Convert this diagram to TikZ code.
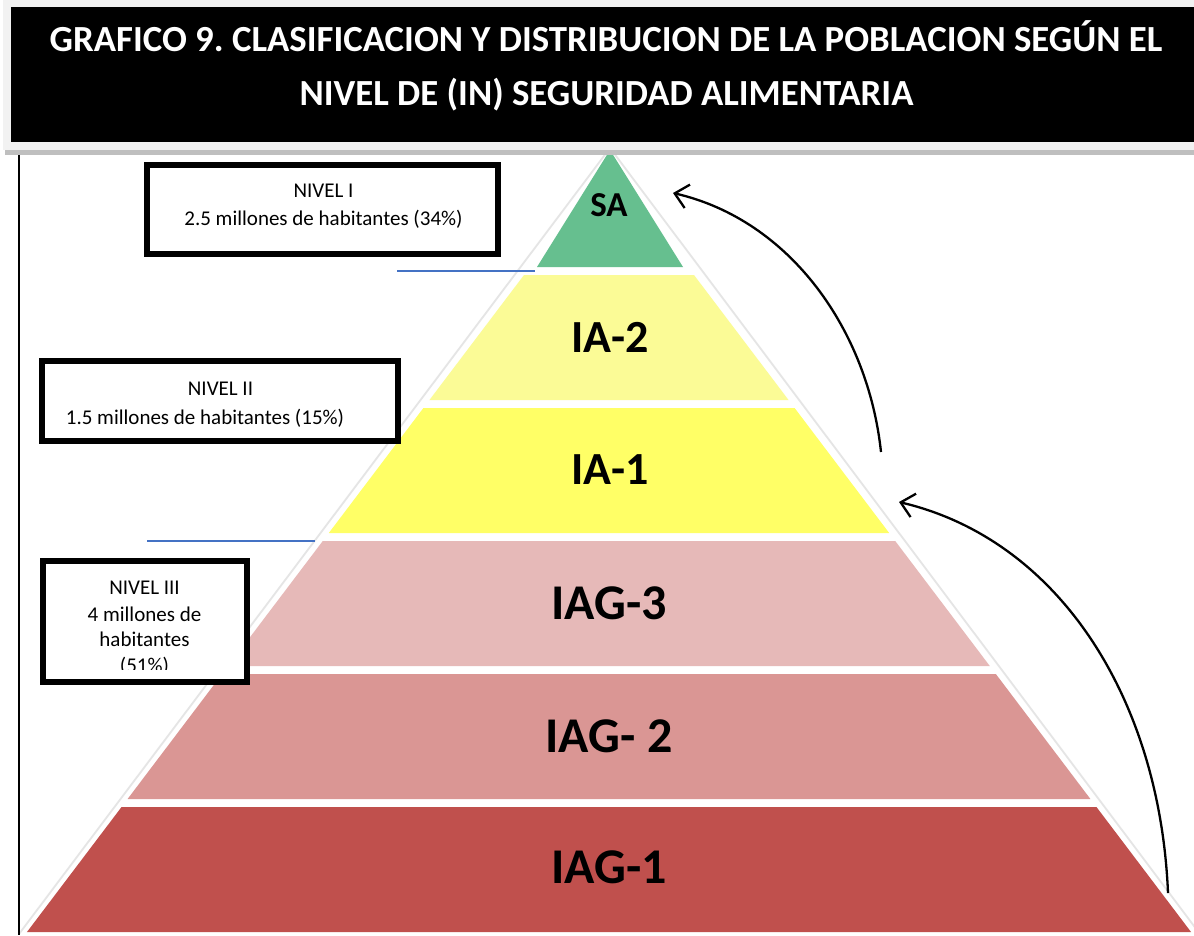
\documentclass[tikz,border=0pt]{standalone}
\usepackage{fontspec}
\setmainfont{Carlito}
\usetikzlibrary{arrows.meta}
\frenchspacing
\definecolor{cSA}{HTML}{66BF8F}
\definecolor{cIAb}{HTML}{FBFB96}
\definecolor{cIAa}{HTML}{FFFF66}
\definecolor{cIAGc}{HTML}{E6B9B8}
\definecolor{cIAGb}{HTML}{DA9694}
\definecolor{cIAGa}{HTML}{C0504D}
\definecolor{cBlue}{HTML}{4472C4}
\newcommand\pyrlayer[3]{%
  \fill[#3] ({609-(85+0.7565*(#1-275))},#1) -- ({609+(85+0.7565*(#1-275))},#1)
    -- ({609+(85+0.7565*(#2-275))},#2) -- ({609-(85+0.7565*(#2-275))},#2) -- cycle;}
\begin{document}
\begin{tikzpicture}[x=1pt,y=-1pt,
  lvlbox/.style={draw=black,line width=6pt,fill=white,inner sep=0pt},
  boxtxt/.style={font=\fontsize{21}{25}\selectfont,anchor=base,inner sep=0pt},
  lbl/.style={font=\bfseries\fontsize{50}{56}\selectfont,inner sep=0pt},
  lbls/.style={font=\bfseries\fontsize{46}{52}\selectfont,inner sep=0pt},
  ttl/.style={font=\bfseries\fontsize{36.8}{42}\selectfont,text=white,anchor=base,inner sep=0pt},
  arr/.style={line width=2.3pt,-{Straight Barb[length=13pt,width=24pt,line width=2.3pt]}},
  sepline/.style={cBlue,line width=1.6pt}]
\useasboundingbox (0,0) rectangle (1194,935);
\fill[white] (0,0) rectangle (1194,935);
% faint outline of the pyramid
\draw[black!10,line width=1.8pt] (610,148) -- (19,934);
\draw[black!10,line width=1.8pt] (610,148) -- (1200,934);
% layers
\fill[cSA] (610,150) -- (683,267) -- (537,267) -- cycle;
\pyrlayer{275}{400}{cIAb}
\pyrlayer{408}{533}{cIAa}
\pyrlayer{541}{666}{cIAGc}
\pyrlayer{674}{799}{cIAGb}
\pyrlayer{807}{932}{cIAGa}
% labels
\node[font=\bfseries\fontsize{35}{40}\selectfont,inner sep=0pt] (sa) at (609,205) {SA};
\node[lbls] (ia2) at (610,337) {IA-2};
\node[lbls] (ia1) at (610,470) {IA-1};
\node[lbl] (iag3) at (609,603) {IAG-3};
\node[lbl] (iag2) at (609,736) {IAG- 2};
\node[lbl] (iag1) at (609,867) {IAG-1};
% left vertical line
\draw[black,line width=2.5pt] (19,150) -- (19,935);
% blue separator lines
\draw[sepline] (397,271) -- (535,271);
\draw[sepline] (147,541) -- (315,541);
% level boxes
\node[lvlbox,minimum width=351pt,minimum height=89pt] (b1) at (322.5,209.5) {};
\node[boxtxt] (b1a) at (323.5,197) {NIVEL I};
\node[boxtxt] (b1b) at (323.5,225) {2.5 millones de habitantes (34\%)};
\node[lvlbox,minimum width=356pt,minimum height=80pt] (b2) at (220,401) {};
\node[boxtxt] (b2a) at (220.5,395.5) {NIVEL II};
\node[boxtxt] (b2b) at (205,424) {1.5 millones de habitantes (15\%)};
\node[lvlbox,minimum width=204.5pt,minimum height=121pt] (b3) at (144.75,621) {};
\begin{scope}
\clip (45,563) rectangle (244,669);
\node[boxtxt] (b3a) at (144.5,594) {NIVEL III};
\node[boxtxt] (b3b) at (144.5,621) {4 millones de};
\node[boxtxt] (b3c) at (144.5,646.5) {habitantes};
\node[boxtxt] (b3d) at (144.5,672) {(51\%)};
\end{scope}
% arrows
\coordinate (a1s) at (881,452);
\coordinate (a1e) at (673,193);
\coordinate (a2s) at (1168,893);
\coordinate (a2e) at (899,502);
\draw[arr] (a1s) .. controls (868,330) and (790,220) .. (a1e);
\draw[arr] (a2s) .. controls (1160,700) and (1060,540) .. (a2e);
% title bar
\fill[black!5] (3,0) rectangle (1194,150);
\fill[black!25] (5,150) rectangle (1194,155);
\fill[black] (11,7) rectangle (1194,142);
\node[ttl] (t1) at (606,51.7) {GRAFICO 9. CLASIFICACION Y DISTRIBUCION DE LA POBLACION SEGÚN EL};
\node[ttl] (t2) at (606.5,105) {NIVEL DE (IN) SEGURIDAD ALIMENTARIA};
\end{tikzpicture}
\end{document}
